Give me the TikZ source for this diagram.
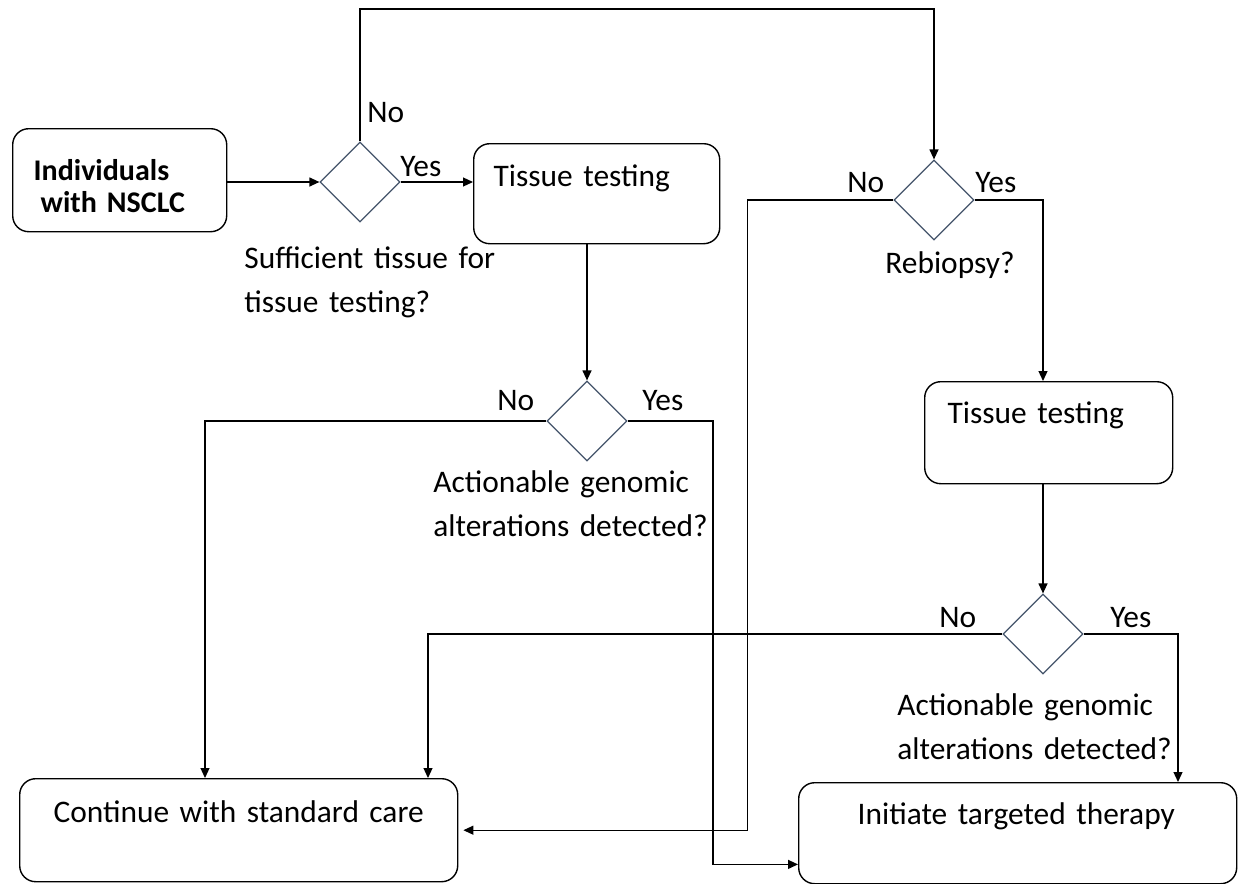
\documentclass[tikz,border=0pt]{standalone}
\usepackage{fontspec}
\setmainfont{Carlito}
\usetikzlibrary{calc, shapes.geometric, arrows.meta}
\definecolor{DecSlate}{RGB}{68, 84, 106}

\begin{document}
\begin{tikzpicture}[x=0.5pt, y=-0.5pt,
    font=\fontsize{15.7}{22}\selectfont,
    box/.style={draw, line width=0.7pt, rounded corners=8pt, anchor=north west, inner ysep=0pt, align=left},
    decision/.style={draw=DecSlate, line width=0.6pt, diamond, minimum width=40pt, minimum height=40pt, inner sep=0pt},
    arr/.style={line width=0.6pt, -{Triangle[length=5pt, width=4.5pt]}},
    lbl/.style={anchor=base west, inner sep=0pt, align=left}]
    \useasboundingbox (0,0) rectangle (1239,884);
    \coordinate (topRow) at (0,9);
    \node[box, font=\fontsize{15}{16}\selectfont\bfseries, inner xsep=10.5pt, text width=86pt, text height=26pt, text depth=25.5pt] (start) at (12,128) {Individuals\\\hspace*{3.5pt}with NSCLC};
    \node[box, inner xsep=10pt, text width=103pt, text height=21.5pt, text depth=28.5pt] (testOne) at (473,143) {Tissue testing};
    \node[box, inner xsep=11.5pt, text width=101pt, text height=21pt, text depth=30pt] (testTwo) at (924,381) {Tissue testing};
    \node[box, inner xsep=17pt, text width=185pt, text height=22pt, text depth=29.5pt] (stdCare) at (19,778) {\mbox{Continue with standard care}};
    \node[box, inner xsep=29.5pt, text width=160pt, text height=21pt, text depth=29.5pt] (targeted) at (798,782) {\mbox{Initiate targeted therapy}};
    \node[decision] (decSuff) at (360,182) {};
    \node[decision] (decAct) at (587,421) {};
    \node[decision] (decRebiopsy) at (934,200) {};
    \node[decision] (decActTwo) at (1043,634) {};
    \node[lbl] (noSuff) at (367,122) {No};
    \node[lbl] (yesSuff) at (400,176) {Yes};
    \node[lbl, text width=140pt] (qSuff) at (244,268) {Sufficient tissue for\\tissue testing?};
    \node[lbl] (noAct) at (497,410) {No};
    \node[lbl] (yesAct) at (642,410) {Yes};
    \node[lbl, text width=140pt] (qAct) at (433,492) {Actionable genomic\\alterations detected?};
    \node[lbl] (noRebiopsy) at (847,192) {No};
    \node[lbl] (yesRebiopsy) at (975,192) {Yes};
    \node[lbl] (qRebiopsy) at (885,273) {Rebiopsy?};
    \node[lbl] (noActTwo) at (939,627) {No};
    \node[lbl] (yesActTwo) at (1110,627) {Yes};
    \node[lbl, text width=140pt] (qActTwo) at (897,715) {Actionable genomic\\alterations detected?};
    \draw[arr] (start.east |- decSuff.west) -- (decSuff.west);
    \draw[arr] (decSuff.north) |- (decRebiopsy.north |- topRow) -- (decRebiopsy.north);
    \draw[arr] (decSuff.east) -- (decSuff.east -| testOne.west);
    \draw[arr] (decAct.north |- testOne.south) -- (decAct.north);
    \draw[arr] (decAct.west) -| ($(stdCare.north west)+(186,0)$);
    \draw[arr] (decAct.east) -| ($(targeted.south west)+(-85,-20)$) -- ($(targeted.south west)+(0,-20)$);
    \draw[arr, shorten >=2.5pt] (decRebiopsy.west) -| ($(stdCare.east)+(289,0)$) -- (stdCare.east);
    \draw[arr] (decRebiopsy.east) -| (decActTwo.north |- testTwo.north);
    \draw[arr] (decActTwo.north |- testTwo.south) -- (decActTwo.north);
    \draw[arr] (decActTwo.west) -| ($(stdCare.north west)+(409,0)$);
    \draw[arr] (decActTwo.east) -| ($(targeted.north west)+(380,0)$);
\end{tikzpicture}
\end{document}
